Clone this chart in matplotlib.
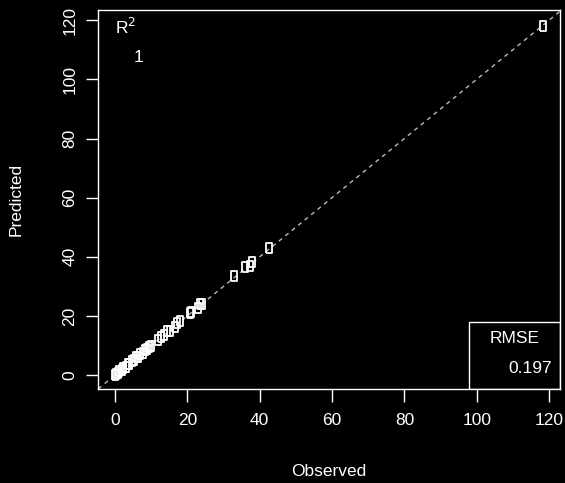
import matplotlib.pyplot as plt
import numpy as np

# observed vs predicted values
observed = [0.0, 0.3, 0.8, 1.2, 1.8, 2.3, 3.0, 3.5, 4.0, 4.6, 5.2, 5.8, 6.3, 7.0,
            7.6, 8.2, 8.8, 9.4, 10.0, 12.0, 12.6, 13.6, 14.5, 15.1, 16.6, 17.2,
            18.1, 20.6, 21.1, 23.0, 23.6, 24.0, 33.0, 36.0, 37.2, 38.0, 42.6, 118.2]
predicted = [0.2, 0.5, 0.7, 1.4, 1.6, 2.5, 2.9, 3.7, 3.9, 4.8, 5.0, 6.0, 6.2, 7.2,
             7.5, 8.4, 8.7, 9.6, 9.9, 11.8, 12.9, 13.4, 14.8, 15.0, 16.4, 17.5,
             18.3, 20.9, 21.4, 22.8, 23.9, 24.2, 33.4, 36.5, 37.0, 38.2, 43.0, 117.9]
ticks = [0, 20, 40, 60, 80, 100, 120]
r2_text = "1"
rmse_text = "0.197"

plt.rcParams['font.family'] = ['Liberation Sans', 'DejaVu Sans']
fs = 12.5

fig = plt.figure(figsize=(5.65, 4.83), dpi=100, facecolor="black")
ax = fig.add_axes([0.1735, 0.1946, 0.8175, 0.7844], facecolor="black")

# dashed 1:1 line
ax.plot([-10, 130], [-10, 130], linestyle=(0, (3, 3)), color="#bbbbbb", linewidth=1, zorder=1)

box = [(-1, -2), (1, -2), (1, 2), (-1, 2), (-1, -2)]
ax.plot(observed, predicted, linestyle="none", marker=box, markersize=7.5,
        markerfacecolor="none", markeredgecolor="white", markeredgewidth=1.3, zorder=2)

ax.set_xlim(-4.7, 123)
ax.set_ylim(-4.7, 123.4)
ax.set_xticks(ticks)
ax.set_yticks(ticks)
ax.tick_params(colors="white", labelcolor="white", length=9, width=1, labelsize=fs)
ax.tick_params(axis="x", pad=8)
ax.tick_params(axis="y", pad=6)
for lab in ax.get_yticklabels():
    lab.set_rotation(90)
    lab.set_va("center")
for s in ax.spines.values():
    s.set_color("white")
    s.set_linewidth(1)

ax.set_xlabel("Observed", color="white", fontsize=fs, labelpad=26)
ax.set_ylabel("Predicted", color="white", fontsize=fs, labelpad=28)

# R^2 legend in top left
ax.text(28 / 462, 1 - 17 / 379, r"R$^2$", transform=ax.transAxes, color="white",
        fontsize=fs, ha="center", va="center")
ax.text(40 / 462, 1 - 47 / 379, r2_text, transform=ax.transAxes, color="white",
        fontsize=fs, ha="center", va="center")

# RMSE box in bottom right
x0 = (469 - 98) / 462
ax.add_patch(plt.Rectangle((x0, 0), 1 - x0, 67 / 379, transform=ax.transAxes,
                           facecolor="none", edgecolor="white", linewidth=1, zorder=3))
ax.text((515 - 98) / 462, (389 - 338) / 379, "RMSE", transform=ax.transAxes,
        color="white", fontsize=fs, ha="center", va="center")
ax.text((552 - 98) / 462, (389 - 368) / 379, rmse_text, transform=ax.transAxes,
        color="white", fontsize=fs, ha="right", va="center")

fig.savefig("out.png", dpi=100, facecolor="black")
